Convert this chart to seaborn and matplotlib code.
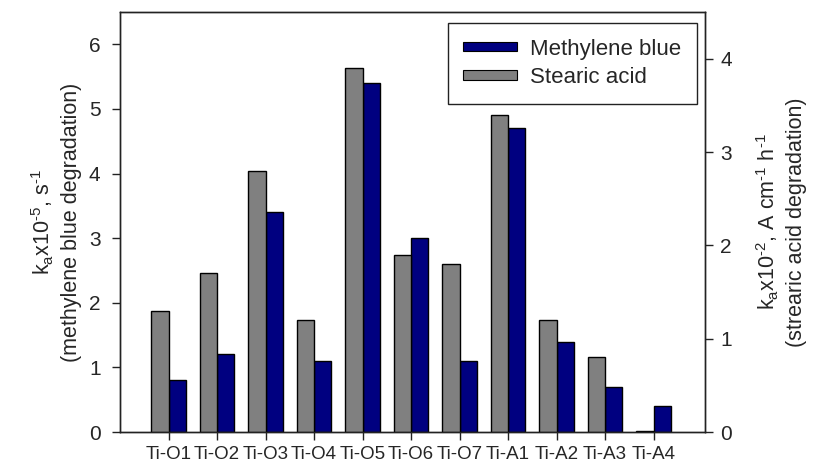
import matplotlib
matplotlib.use('Agg')
import matplotlib.pyplot as plt
from matplotlib.patches import Patch
import seaborn as sns
import pandas as pd
import numpy as np

samples = ['Ti-O1', 'Ti-O2', 'Ti-O3', 'Ti-O4', 'Ti-O5', 'Ti-O6', 'Ti-O7',
           'Ti-A1', 'Ti-A2', 'Ti-A3', 'Ti-A4']
methylene_blue = [0.8, 1.2, 3.4, 1.1, 5.4, 3.0, 1.1, 4.7, 1.4, 0.7, 0.4]
stearic_acid = [1.3, 1.7, 2.8, 1.2, 3.9, 1.9, 1.8, 3.4, 1.2, 0.8, 0.01]

series_order = ['Stearic acid', 'Methylene blue']
colors = {'Stearic acid': '#808080', 'Methylene blue': '#000080'}


def build_frame(keep):
    rows = []
    for name, vals in (('Stearic acid', stearic_acid), ('Methylene blue', methylene_blue)):
        for s, v in zip(samples, vals):
            rows.append({'sample': s, 'series': name, 'value': v if name == keep else np.nan})
    return pd.DataFrame(rows)


sns.set_theme(style='white')
plt.rcParams['font.family'] = ['Liberation Sans', 'DejaVu Sans']
plt.rcParams['mathtext.fontset'] = 'custom'
plt.rcParams['mathtext.rm'] = 'Liberation Sans'
plt.rcParams['mathtext.default'] = 'regular'

fig = plt.figure(figsize=(8.13, 4.68), dpi=100)
ax = fig.add_axes([0.1476, 0.0769, 0.7196, 0.8974])
ax2 = ax.twinx()

# methylene blue on the left axis, stearic acid on the right axis
sns.barplot(data=build_frame('Methylene blue'), x='sample', y='value', hue='series',
            hue_order=series_order, palette=colors, width=0.714, edgecolor='black',
            linewidth=1, saturation=1, errorbar=None, legend=False, ax=ax)
sns.barplot(data=build_frame('Stearic acid'), x='sample', y='value', hue='series',
            hue_order=series_order, palette=colors, width=0.714, edgecolor='black',
            linewidth=1, saturation=1, errorbar=None, legend=False, ax=ax2)

ax.set_xlim(-1.0, 11.06)
ax.set_ylim(0, 6.5)
ax2.set_ylim(0, 4.5)
ax.set_yticks(range(0, 7))
ax2.set_yticks(range(0, 5))

hy = '\u2010'
ax.set_xlabel('')
ax.set_ylabel('k$_a$x10$^{' + hy + '5}$, s$^{' + hy + '1}$\n(methylene blue degradation)',
              fontsize=15.5, labelpad=5, linespacing=1.3)
ax2.set_ylabel('k$_a$x10$^{' + hy + '2}$, A cm$^{' + hy + '1}$ h$^{' + hy + '1}$\n(strearic acid degradation)',
               fontsize=15.5, rotation=90, labelpad=16, linespacing=1.3)

ax.tick_params(axis='y', direction='out', length=6, width=1, labelsize=15, left=True,
               pad=8, color='#222222')
ax2.tick_params(axis='y', direction='out', length=6, width=1, labelsize=15, right=True,
                pad=5, color='#222222')
ax.tick_params(axis='x', direction='out', length=6, width=1, labelsize=13.5, bottom=True,
               pad=4, color='#222222')

for a in (ax, ax2):
    for sp in a.spines.values():
        sp.set_visible(True)
        sp.set_color('#222222')
        sp.set_linewidth(1)

handles = [Patch(facecolor=colors['Methylene blue'], edgecolor='black', linewidth=0.8),
           Patch(facecolor=colors['Stearic acid'], edgecolor='black', linewidth=0.8)]
leg = ax2.legend(handles, ['Methylene blue', 'Stearic acid'], loc='upper right',
                 bbox_to_anchor=(0.986, 0.974), fontsize=16, frameon=True, fancybox=False,
                 edgecolor='#222222', framealpha=1, handlelength=2.4, handleheight=0.3,
                 borderpad=0.7, labelspacing=0.35, handletextpad=0.6, borderaxespad=0)
leg.get_frame().set_linewidth(1)

fig.savefig('out.png', dpi=100)
